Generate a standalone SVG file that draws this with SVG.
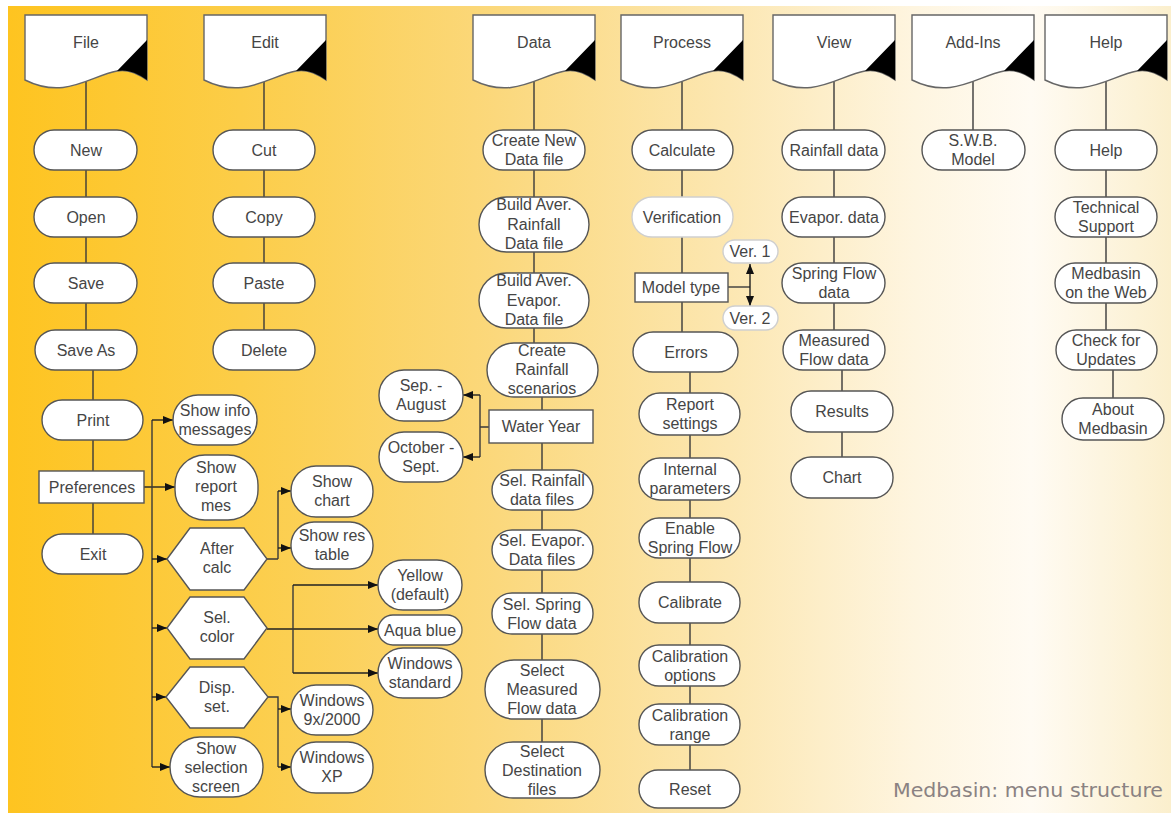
<svg xmlns="http://www.w3.org/2000/svg" width="1171" height="813" viewBox="0 0 1171 813">
  <defs>
    <linearGradient id="bg" x1="0" y1="0" x2="1" y2="0">
      <stop offset="0" stop-color="#fec420"/>
      <stop offset="0.2" stop-color="#fccd48"/>
      <stop offset="0.42" stop-color="#fbd87c"/>
      <stop offset="0.62" stop-color="#fce7b2"/>
      <stop offset="0.78" stop-color="#fef5e0"/>
      <stop offset="0.88" stop-color="#fffbf3"/>
      <stop offset="1" stop-color="#fbefcd"/>
    </linearGradient>
    <marker id="arr" viewBox="0 0 10 8" refX="10" refY="4" markerWidth="10" markerHeight="8" markerUnits="userSpaceOnUse" orient="auto">
      <path d="M0,0 L10,4 L0,8 Z" fill="#111"/>
    </marker>
    <!-- menu header: document sheet with a wavy bottom edge and black folded corner -->
    <g id="hdr">
      <path d="M0,15 H122 V80 C112,73 102,69 92,71 C65,76 40,100 0,80 Z" fill="#fff" stroke="#666" stroke-width="1.4"/>
      <path d="M122,40 V80 C112,73 102,69 92,71 Z" fill="#000"/>
    </g>
  </defs>
  <style>
    .n rect, .n polygon { fill:#fff; stroke:#555; stroke-width:1.4; }
    .n.light rect { stroke:#cfcfcf; }
    .t { font-family:"Liberation Sans", Arial, sans-serif; font-size:16px; fill:#454545; text-anchor:middle; }
    .c { fill:none; stroke:#3a3a3a; stroke-width:1.4; }
    .a { fill:none; stroke:#222; stroke-width:1.4; marker-end:url(#arr); }
    .cap { font-family:"DejaVu Sans", Verdana, sans-serif; font-size:19px; fill:#8a8282; }
  </style>

  <rect width="1171" height="813" fill="#fff"/>
  <rect x="8" y="6" width="1163" height="807" fill="url(#bg)"/>

  <!-- connectors -->
  <g id="connectors">
    <!-- column spines -->
    <path class="c" d="M86,80 V350 M93,350 V554"/>
    <path class="c" d="M264,80 V350"/>
    <path class="c" d="M534,80 V370 M542,370 V770"/>
    <path class="c" d="M682,80 V352 M690,352 V789"/>
    <path class="c" d="M834,80 V350 M842,350 V477"/>
    <path class="c" d="M973,80 V150"/>
    <path class="c" d="M1106,80 V350 M1113,350 V419"/>

    <!-- Model type -> Ver. 1 / Ver. 2 -->
    <path class="c" d="M728,287 H750"/>
    <path class="a" d="M750,287 V264"/>
    <path class="a" d="M750,287 V306"/>

    <!-- Water Year -> periods -->
    <path class="c" d="M489,427 H480 M480,395 V457"/>
    <path class="a" d="M480,395 H463"/>
    <path class="a" d="M480,457 H463"/>

    <!-- Preferences branches -->
    <path class="a" d="M144,487 H175"/>
    <path class="c" d="M152,420 V767"/>
    <path class="a" d="M152,420 H173"/>
    <path class="a" d="M152,559 H167"/>
    <path class="a" d="M152,628 H167"/>
    <path class="a" d="M152,697 H166"/>
    <path class="a" d="M152,767 H170"/>

    <!-- After calc -->
    <path class="c" d="M267,559 H278 M278,491 V559"/>
    <path class="a" d="M278,491 H291"/>
    <path class="a" d="M278,548 H291"/>

    <!-- Sel. color -->
    <path class="a" d="M267,629 H378"/>
    <path class="c" d="M293,585 V673"/>
    <path class="a" d="M293,585 H378"/>
    <path class="a" d="M293,673 H378"/>

    <!-- Disp. set. -->
    <path class="c" d="M268,697 H278 V767"/>
    <path class="a" d="M278,709 H291"/>
    <path class="a" d="M278,767 H291"/>
  </g>

  <!-- menu headers -->
  <g id="hdr-file"><use href="#hdr" x="25"/><text class="t" x="86" y="48">File</text></g>
  <g id="hdr-edit"><use href="#hdr" x="204"/><text class="t" x="265" y="48">Edit</text></g>
  <g id="hdr-data"><use href="#hdr" x="473"/><text class="t" x="534" y="48">Data</text></g>
  <g id="hdr-process"><use href="#hdr" x="621"/><text class="t" x="682" y="48">Process</text></g>
  <g id="hdr-view"><use href="#hdr" x="773"/><text class="t" x="834" y="48">View</text></g>
  <g id="hdr-addins"><use href="#hdr" x="912"/><text class="t" x="973" y="48">Add-Ins</text></g>
  <g id="hdr-help"><use href="#hdr" x="1045"/><text class="t" x="1106" y="48">Help</text></g>

  <!-- File -->
  <g id="file-new" class="n"><rect x="34" y="130" width="103" height="40" rx="20"/><text class="t" x="86" y="156">New</text></g>
  <g id="file-open" class="n"><rect x="34" y="197" width="103" height="40" rx="20"/><text class="t" x="86" y="223">Open</text></g>
  <g id="file-save" class="n"><rect x="34" y="263" width="103" height="40" rx="20"/><text class="t" x="86" y="289">Save</text></g>
  <g id="file-saveas" class="n"><rect x="35" y="330" width="102" height="40" rx="20"/><text class="t" x="86" y="356">Save As</text></g>
  <g id="file-print" class="n"><rect x="42" y="400" width="101" height="40" rx="20"/><text class="t" x="93" y="426">Print</text></g>
  <g id="file-preferences" class="n"><rect x="39" y="471" width="105" height="32"/><text class="t" x="92" y="493">Preferences</text></g>
  <g id="file-exit" class="n"><rect x="42" y="534" width="101" height="40" rx="20"/><text class="t" x="93" y="560">Exit</text></g>

  <!-- Preferences options -->
  <g id="pref-info" class="n"><rect x="173" y="395" width="84" height="50" rx="25"/><text class="t" x="215" y="416">Show info<tspan x="215" dy="19">messages</tspan></text></g>
  <g id="pref-report" class="n"><rect x="175" y="455" width="83" height="65" rx="30"/><text class="t" x="216" y="473">Show<tspan x="216" dy="19">report</tspan><tspan x="216" dy="19">mes</tspan></text></g>
  <g id="pref-aftercalc" class="n"><polygon points="167,559 190,528 244,528 267,559 244,590 190,590"/><text class="t" x="217" y="554">After<tspan x="217" dy="19">calc</tspan></text></g>
  <g id="pref-color" class="n"><polygon points="167,628 190,597 244,597 267,628 244,659 190,659"/><text class="t" x="217" y="623">Sel.<tspan x="217" dy="19">color</tspan></text></g>
  <g id="pref-disp" class="n"><polygon points="166,697 190,667 244,667 268,697 244,728 190,728"/><text class="t" x="217" y="693">Disp.<tspan x="217" dy="19">set.</tspan></text></g>
  <g id="pref-selection" class="n"><rect x="170" y="737" width="93" height="60" rx="30"/><text class="t" x="216" y="754">Show<tspan x="216" dy="19">selection</tspan><tspan x="216" dy="19">screen</tspan></text></g>
  <g id="calc-chart" class="n"><rect x="291" y="466" width="82" height="51" rx="25"/><text class="t" x="332" y="487">Show<tspan x="332" dy="19">chart</tspan></text></g>
  <g id="calc-table" class="n"><rect x="291" y="522" width="82" height="47" rx="23"/><text class="t" x="332" y="541">Show res<tspan x="332" dy="19">table</tspan></text></g>
  <g id="color-yellow" class="n"><rect x="378" y="560" width="84" height="50" rx="25"/><text class="t" x="420" y="581">Yellow<tspan x="420" dy="19">(default)</tspan></text></g>
  <g id="color-aqua" class="n"><rect x="378" y="615" width="84" height="30" rx="15"/><text class="t" x="420" y="636">Aqua blue</text></g>
  <g id="color-windows" class="n"><rect x="378" y="648" width="84" height="50" rx="25"/><text class="t" x="420" y="669">Windows<tspan x="420" dy="19">standard</tspan></text></g>
  <g id="disp-9x" class="n"><rect x="291" y="685" width="82" height="50" rx="25"/><text class="t" x="332" y="706">Windows<tspan x="332" dy="19">9x/2000</tspan></text></g>
  <g id="disp-xp" class="n"><rect x="291" y="742" width="82" height="51" rx="25"/><text class="t" x="332" y="763">Windows<tspan x="332" dy="19">XP</tspan></text></g>

  <!-- Edit -->
  <g id="edit-cut" class="n"><rect x="213" y="130" width="102" height="40" rx="20"/><text class="t" x="264" y="156">Cut</text></g>
  <g id="edit-copy" class="n"><rect x="213" y="197" width="102" height="40" rx="20"/><text class="t" x="264" y="223">Copy</text></g>
  <g id="edit-paste" class="n"><rect x="213" y="263" width="102" height="40" rx="20"/><text class="t" x="264" y="289">Paste</text></g>
  <g id="edit-delete" class="n"><rect x="213" y="330" width="102" height="40" rx="20"/><text class="t" x="264" y="356">Delete</text></g>

  <!-- Data -->
  <g id="data-create" class="n"><rect x="483" y="130" width="102" height="40" rx="20"/><text class="t" x="534" y="146">Create New<tspan x="534" dy="19">Data file</tspan></text></g>
  <g id="data-rain-avg" class="n"><rect x="479" y="197" width="110" height="55" rx="27.5"/><text class="t" x="534" y="210">Build Aver.<tspan x="534" dy="19.5">Rainfall</tspan><tspan x="534" dy="19.5">Data file</tspan></text></g>
  <g id="data-evap-avg" class="n"><rect x="479" y="273" width="110" height="55" rx="27.5"/><text class="t" x="534" y="286">Build Aver.<tspan x="534" dy="19.5">Evapor.</tspan><tspan x="534" dy="19.5">Data file</tspan></text></g>
  <g id="data-scenarios" class="n"><rect x="487" y="343" width="111" height="54" rx="27"/><text class="t" x="542" y="356">Create<tspan x="542" dy="19">Rainfall</tspan><tspan x="542" dy="19">scenarios</tspan></text></g>
  <g id="data-wateryear" class="n"><rect x="489" y="410" width="104" height="33"/><text class="t" x="541" y="432">Water Year</text></g>
  <g id="wy-sep" class="n"><rect x="379" y="370" width="84" height="51" rx="25"/><text class="t" x="421" y="391">Sep. -<tspan x="421" dy="19">August</tspan></text></g>
  <g id="wy-oct" class="n"><rect x="379" y="432" width="84" height="50" rx="25"/><text class="t" x="421" y="453">October -<tspan x="421" dy="19">Sept.</tspan></text></g>
  <g id="data-sel-rain" class="n"><rect x="492" y="470" width="101" height="40" rx="20"/><text class="t" x="542" y="486">Sel. Rainfall<tspan x="542" dy="19">data files</tspan></text></g>
  <g id="data-sel-evap" class="n"><rect x="492" y="530" width="101" height="40" rx="20"/><text class="t" x="542" y="546">Sel. Evapor.<tspan x="542" dy="19">Data files</tspan></text></g>
  <g id="data-sel-spring" class="n"><rect x="492" y="593" width="101" height="41" rx="20"/><text class="t" x="542" y="610">Sel. Spring<tspan x="542" dy="19">Flow data</tspan></text></g>
  <g id="data-sel-measured" class="n"><rect x="485" y="660" width="115" height="59" rx="29"/><text class="t" x="542" y="676">Select<tspan x="542" dy="19">Measured</tspan><tspan x="542" dy="19">Flow data</tspan></text></g>
  <g id="data-sel-dest" class="n"><rect x="485" y="742" width="115" height="56" rx="28"/><text class="t" x="542" y="757">Select<tspan x="542" dy="19">Destination</tspan><tspan x="542" dy="19">files</tspan></text></g>

  <!-- Process -->
  <g id="proc-calculate" class="n"><rect x="632" y="130" width="101" height="40" rx="20"/><text class="t" x="682" y="156">Calculate</text></g>
  <g id="proc-verification" class="n light"><rect x="632" y="197" width="101" height="40" rx="20"/><text class="t" x="682" y="223">Verification</text></g>
  <g id="proc-modeltype" class="n"><rect x="635" y="273" width="93" height="29"/><text class="t" x="681" y="293">Model type</text></g>
  <g id="proc-ver1" class="n light"><rect x="723" y="240" width="55" height="23" rx="11.5"/><text class="t" x="750" y="257">Ver. 1</text></g>
  <g id="proc-ver2" class="n light"><rect x="723" y="306" width="55" height="24" rx="12"/><text class="t" x="750" y="324">Ver. 2</text></g>
  <g id="proc-errors" class="n"><rect x="633" y="332" width="105" height="40" rx="20"/><text class="t" x="686" y="358">Errors</text></g>
  <g id="proc-report" class="n"><rect x="639" y="393" width="101" height="42" rx="21"/><text class="t" x="690" y="410">Report<tspan x="690" dy="19">settings</tspan></text></g>
  <g id="proc-internal" class="n"><rect x="639" y="458" width="101" height="42" rx="21"/><text class="t" x="690" y="475">Internal<tspan x="690" dy="19">parameters</tspan></text></g>
  <g id="proc-spring" class="n"><rect x="639" y="518" width="101" height="40" rx="20"/><text class="t" x="690" y="534">Enable<tspan x="690" dy="19">Spring Flow</tspan></text></g>
  <g id="proc-calibrate" class="n"><rect x="639" y="582" width="101" height="41" rx="20"/><text class="t" x="690" y="608">Calibrate</text></g>
  <g id="proc-cal-options" class="n"><rect x="639" y="645" width="101" height="41" rx="20"/><text class="t" x="690" y="662">Calibration<tspan x="690" dy="19">options</tspan></text></g>
  <g id="proc-cal-range" class="n"><rect x="639" y="704" width="101" height="41" rx="20"/><text class="t" x="690" y="721">Calibration<tspan x="690" dy="19">range</tspan></text></g>
  <g id="proc-reset" class="n"><rect x="639" y="770" width="101" height="38" rx="19"/><text class="t" x="690" y="795">Reset</text></g>

  <!-- View -->
  <g id="view-rain" class="n"><rect x="782" y="130" width="103" height="40" rx="20"/><text class="t" x="834" y="156">Rainfall data</text></g>
  <g id="view-evap" class="n"><rect x="782" y="197" width="103" height="40" rx="20"/><text class="t" x="834" y="223">Evapor. data</text></g>
  <g id="view-spring" class="n"><rect x="782" y="263" width="103" height="40" rx="20"/><text class="t" x="834" y="279">Spring Flow<tspan x="834" dy="19">data</tspan></text></g>
  <g id="view-measured" class="n"><rect x="783" y="330" width="102" height="40" rx="20"/><text class="t" x="834" y="346">Measured<tspan x="834" dy="19">Flow data</tspan></text></g>
  <g id="view-results" class="n"><rect x="791" y="391" width="102" height="41" rx="20"/><text class="t" x="842" y="417">Results</text></g>
  <g id="view-chart" class="n"><rect x="791" y="457" width="102" height="41" rx="20"/><text class="t" x="842" y="483">Chart</text></g>

  <!-- Add-Ins -->
  <g id="addin-swb" class="n"><rect x="922" y="130" width="103" height="40" rx="20"/><text class="t" x="973" y="146">S.W.B.<tspan x="973" dy="19">Model</tspan></text></g>

  <!-- Help -->
  <g id="help-help" class="n"><rect x="1055" y="130" width="102" height="40" rx="20"/><text class="t" x="1106" y="156">Help</text></g>
  <g id="help-support" class="n"><rect x="1055" y="197" width="102" height="40" rx="20"/><text class="t" x="1106" y="213">Technical<tspan x="1106" dy="19">Support</tspan></text></g>
  <g id="help-web" class="n"><rect x="1055" y="263" width="102" height="40" rx="20"/><text class="t" x="1106" y="279">Medbasin<tspan x="1106" dy="19">on the Web</tspan></text></g>
  <g id="help-updates" class="n"><rect x="1056" y="330" width="101" height="40" rx="20"/><text class="t" x="1106" y="346">Check for<tspan x="1106" dy="19">Updates</tspan></text></g>
  <g id="help-about" class="n"><rect x="1062" y="398" width="102" height="42" rx="21"/><text class="t" x="1113" y="415">About<tspan x="1113" dy="19">Medbasin</tspan></text></g>

  <text class="cap" x="893" y="797" textLength="270" lengthAdjust="spacingAndGlyphs">Medbasin: menu structure</text>
</svg>
